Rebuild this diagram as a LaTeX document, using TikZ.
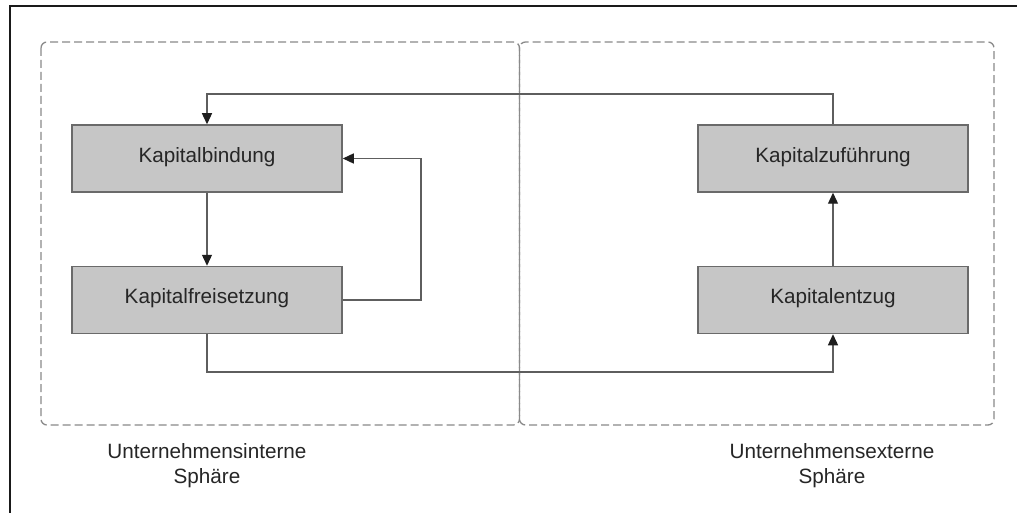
\documentclass[tikz,border=0pt]{standalone}
\usepackage{fontspec}
\setmainfont{Liberation Sans}
\usetikzlibrary{arrows.meta}
\definecolor{boxfill}{HTML}{C6C6C6}
\definecolor{boxline}{HTML}{6A6A6A}
\definecolor{connline}{HTML}{5E5E5E}
\definecolor{tipcol}{HTML}{1E1E1E}
\definecolor{regline}{HTML}{8A8A8A}
\definecolor{framecol}{HTML}{1A1A1A}
\begin{document}
\begin{tikzpicture}[x=1pt,y=-1pt,
  box/.style={draw=boxline, fill=boxfill, line width=1.5pt,
    minimum width=270pt, minimum height=67pt, inner sep=0pt,
    text height=0.716em, text depth=0pt, text=black!85,
    font=\fontsize{20.7}{25}\selectfont},
  conn/.style={draw=connline, line width=1.3pt,
    -{Triangle[length=11pt,width=10pt,color=tipcol]}},
  region/.style={draw=regline, line width=1.3pt, rounded corners=6pt,
    dash pattern=on 8pt off 4pt},
  lab/.style={anchor=base, inner sep=0pt, text=black!85,
    font=\fontsize{20.7}{25}\selectfont}]
\useasboundingbox (0,0) rectangle (1017,513);
\fill[white] (0,0) rectangle (1017,513);
% outer frame (cropped)
\draw[framecol, line width=2pt] (1017,6.5) -- (9.5,6.5) -- (9.5,513);
% spheres
\draw[region] (41,42) rectangle (519.5,425);
\draw[region] (519.5,42) rectangle (994,425);
% boxes
\node[box] (bind) at (207,158.5) {Kapitalbindung};
\node[box] (frei) at (207,300) {Kapitalfreisetzung};
\node[box] (zuf) at (833,158.5) {Kapitalzuführung};
\node[box] (entz) at (833,300) {Kapitalentzug};
% helper coordinates
\coordinate (ctop) at (0,94);
\coordinate (cright) at (421,0);
\coordinate (cbot) at (0,372);
% connectors
\draw[conn] (zuf.north) -- (zuf.north |- ctop) -- (bind.north |- ctop) -- (bind.north);
\draw[conn] (bind.south) -- (frei.north);
\draw[conn] (frei.east) -- (cright |- frei.east) -- (cright |- bind.east) -- (bind.east);
\draw[conn] (frei.south) -- (frei.south |- cbot) -- (entz.south |- cbot) -- (entz.south);
\draw[conn] (entz.north) -- (zuf.south);
% labels
\node[lab] (int1) at (207,458) {Unternehmensinterne};
\node[lab] (int2) at (207,483) {Sphäre};
\node[lab] (ext1) at (832,458) {Unternehmensexterne};
\node[lab] (ext2) at (832,483) {Sphäre};
\end{tikzpicture}
\end{document}
